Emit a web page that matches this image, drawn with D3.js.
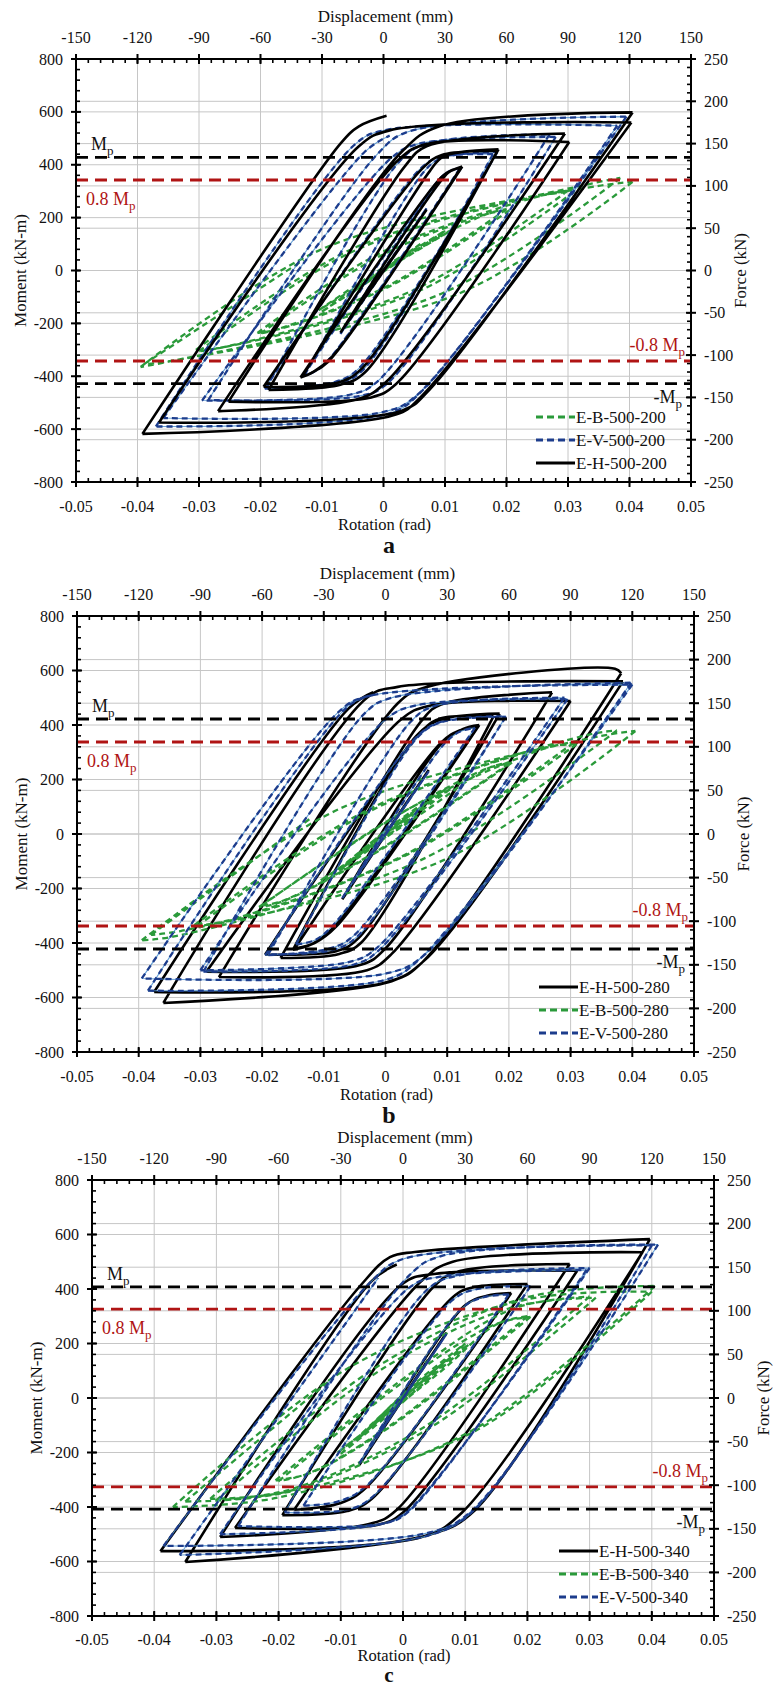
<!DOCTYPE html>
<html><head><meta charset="utf-8">
<script src="https://cdn.jsdelivr.net/npm/d3@7"></script>
<style>
body{margin:0;background:#fff}
svg, svg text{font-family:"Liberation Serif","DejaVu Serif",serif}
svg text{fill:#111}
</style>
</head><body>
<svg id="chart" width="777" height="1686" font-family="Liberation Serif, DejaVu Serif, serif"></svg>
<script>
// ---------- tick labels ----------
const rotTicks = [-0.05,-0.04,-0.03,-0.02,-0.01,0,0.01,0.02,0.03,0.04,0.05];
const dispTicks = [-150,-120,-90,-60,-30,0,30,60,90,120,150];
const momentTicks = [-800,-600,-400,-200,0,200,400,600,800];
const forceTicks = [-250,-200,-150,-100,-50,0,50,100,150,200,250];
const panelLetters = ["a","b","c"];
const mpValues = [428, 422, 408];

// ---------- legends ----------
const legendA = ["E-B-500-200","E-V-500-200","E-H-500-200"];
const legendB = ["E-H-500-280","E-B-500-280","E-V-500-280"];
const legendC = ["E-H-500-340","E-B-500-340","E-V-500-340"];

// ---------- series (rotation rad, moment kN-m) ----------
const a_EH = [[0,0],[0.004,130],[-0.004,-130],[0.007,230],[-0.007,-235],
[0.0105,370],[0.0118,385],[0.0128,393],[-0.0085,-330],[-0.0115,-385],[-0.0135,-405],
[0.0095,355],[0.0112,380],[0.0126,390],[-0.009,-345],[-0.0118,-388],[-0.0132,-402],
[0.0075,375],[0.0098,432],[0.0187,458],[-0.0035,-370],[-0.0075,-425],[-0.0195,-440],
[0.0065,390],[0.0095,437],[0.0185,452],[-0.003,-385],[-0.007,-432],[-0.0187,-452],
[0.0035,395],[0.007,470],[0.0295,518],[0.0005,-420],[-0.004,-485],[-0.0269,-532],
[0.0025,420],[0.007,478],[0.0302,486],[0.002,-430],[-0.002,-480],[-0.0252,-496],
[0.003,450],[0.009,545],[0.0405,598],[0.0075,-450],[0.003,-530],[-0.0365,-575],
[-0.004,470],[0.001,530],[0.0403,560],[0.006,-480],[0.002,-545],[-0.0392,-618],
[-0.007,480],[-0.004,545],[0.0005,585]];
const a_EV = [[0,0],[0.004,130],[-0.004,-130],[0.007,235],[-0.007,-240],
[0.0098,360],[0.0115,382],[0.0127,390],[-0.009,-340],[-0.0115,-385],[-0.013,-398],
[0.0095,355],[0.011,378],[0.0124,386],[-0.0092,-345],[-0.0117,-388],[-0.0128,-395],
[0.0068,380],[0.0098,428],[0.0185,448],[-0.004,-370],[-0.008,-422],[-0.0193,-447],
[0.006,385],[0.0093,430],[0.0178,440],[-0.0035,-380],[-0.0075,-428],[-0.019,-442],
[0.0025,410],[0.007,480],[0.027,515],[-0.001,-420],[-0.0055,-470],[-0.0295,-492],
[0.001,420],[0.0055,478],[0.028,505],[0.0005,-430],[-0.004,-475],[-0.0285,-490],
[-0.001,440],[0.004,525],[0.0395,582],[0.0065,-450],[0.001,-540],[-0.037,-590],
[-0.0045,480],[0.0005,532],[0.038,548],[0.0055,-470],[0.0,-535],[-0.0358,-558],
[-0.003,450],[0.001,510]];
const a_EB = [[0,0],[0.004,60],[-0.004,-60],[0.006,100],[-0.006,-100],
[0.001,20],[0.01,150],[-0.001,-20],[-0.01,-155],
[0.001,15],[0.0105,145],[-0.001,-15],[-0.0105,-150],
[0.0033,58],[0.017,215],[0.02,232],[0.0004,-62],[-0.017,-220],[-0.02,-238],
[-0.0003,58],[0.017,215],[0.0205,228],[0.001,-60],[-0.017,-222],[-0.0205,-236],
[0.0002,75],[0.026,285],[0.03,302],[0.005,-73],[-0.026,-290],[-0.03,-305],
[-0.0047,75],[0.026,285],[0.031,298],[0.006,-75],[-0.026,-290],[-0.0305,-300],
[-0.0045,88],[0.034,330],[0.0385,350],[0.0095,-87],[-0.035,-345],[-0.0395,-365],
[-0.0093,88],[0.035,320],[0.0405,335],[0.0125,-85],[-0.034,-340],[-0.039,-355],
[-0.013,40]];

const b_EH = [[0,0],[0.004,135],[-0.004,-135],[0.007,235],[-0.007,-240],
[0.009,330],[0.0125,385],[0.0152,400],[-0.008,-340],[-0.0115,-400],[-0.0147,-420],
[0.009,335],[0.012,380],[0.015,395],[-0.0085,-345],[-0.012,-405],[-0.015,-425],
[0.005,360],[0.009,420],[0.0185,442],[-0.0045,-385],[-0.008,-430],[-0.0195,-442],
[0.006,380],[0.009,425],[0.0175,432],[-0.004,-400],[-0.0075,-440],[-0.017,-455],
[0.006,420],[0.009,475],[0.027,520],[0.0,-420],[-0.004,-480],[-0.029,-505],
[0.0025,420],[0.007,470],[0.030,488],[0.001,-440],[-0.003,-500],[-0.027,-525],
[0.002,480],[0.006,535],[0.0372,606],[0.0382,590],[0.006,-470],[0.001,-540],[-0.036,-620],
[-0.003,500],[0.002,540],[0.0385,560],[0.0065,-460],[0.0,-545],[-0.0375,-580],
[-0.006,460],[-0.002,520]];
const b_EB = [[0,0],[0.004,70],[-0.004,-70],[0.007,120],[-0.007,-125],
[0.001,30],[0.01,170],[-0.001,-30],[-0.01,-175],
[0.0015,35],[0.0105,165],[-0.0015,-35],[-0.0105,-170],
[0.0052,65],[0.017,245],[0.0205,262],[-0.0013,-65],[-0.017,-250],[-0.0205,-268],
[0.0017,65],[0.017,245],[0.02,258],[-0.0015,-64],[-0.017,-248],[-0.02,-262],
[0.003,83],[0.026,315],[0.0305,335],[0.0025,-84],[-0.026,-320],[-0.0305,-338],
[-0.0025,84],[0.026,318],[0.031,330],[0.003,-82],[-0.026,-322],[-0.031,-335],
[-0.0023,95],[0.033,365],[0.0375,380],[0.0058,-95],[-0.034,-375],[-0.0395,-390],
[-0.0072,95],[0.035,360],[0.0405,378],[0.0095,-95],[-0.033,-355],[-0.038,-370],
[-0.012,60]];
const b_EV = [[0,0],[0.004,130],[-0.004,-130],[0.007,230],[-0.007,-235],
[0.0095,330],[0.012,375],[0.0145,390],[-0.0085,-335],[-0.0115,-390],[-0.0145,-405],
[0.005,350],[0.009,410],[0.0195,430],[-0.005,-370],[-0.009,-420],[-0.0195,-445],
[0.005,355],[0.009,412],[0.0195,432],[-0.0045,-375],[-0.0085,-425],[-0.019,-442],
[0.004,410],[0.008,470],[0.029,500],[-0.0015,-420],[-0.006,-470],[-0.03,-500],
[0.0,420],[0.005,472],[0.0295,495],[-0.001,-425],[-0.005,-478],[-0.0295,-505],
[-0.0035,440],[0.001,500],[0.0398,555],[0.0065,-440],[0.0005,-510],[-0.0395,-530],
[-0.0075,450],[-0.003,505],[0.040,548],[0.0055,-460],[0.0,-535],[-0.0385,-575],
[-0.006,470],[-0.002,510]];

const c_EH = [[0,0],[0.004,140],[-0.004,-140],[0.007,240],[-0.007,-245],
[0.010,340],[0.0135,375],[0.0174,385],[-0.006,-330],[-0.010,-385],[-0.0175,-410],
[0.008,370],[0.011,405],[0.020,418],[-0.005,-370],[-0.009,-415],[-0.0194,-430],
[0.005,410],[0.009,465],[0.0268,492],[-0.001,-410],[-0.005,-460],[-0.0294,-510],
[0.0,420],[0.005,455],[0.028,467],[0.0,-420],[-0.004,-465],[-0.027,-477],
[0.003,430],[0.008,500],[0.0385,535],[0.0095,-420],[0.003,-510],[-0.039,-562],
[-0.0069,411],[-0.0021,517],[0.0019,536],[0.0397,583],[0.0116,-411],[0.0045,-500],[-0.035,-602],
[-0.005,430],[-0.001,490]];
const c_EB = [[0,0],[0.004,80],[-0.004,-80],[0.007,140],[-0.007,-145],
[0.001,35],[0.01,200],[-0.001,-35],[-0.01,-205],
[0.0015,40],[0.0105,195],[-0.0015,-40],[-0.0105,-200],
[0.0062,100],[0.015,270],[0.02,300],[-0.002,-100],[-0.015,-275],[-0.02,-305],
[0.0025,100],[0.015,272],[0.0205,298],[-0.0017,-100],[-0.015,-276],[-0.0205,-302],
[0.0024,110],[0.018,330],[0.03,372],[0.0033,-108],[-0.018,-335],[-0.03,-375],
[-0.0031,110],[0.018,335],[0.031,368],[0.0043,-110],[-0.018,-340],[-0.031,-370],
[-0.0038,120],[0.02,370],[0.0405,411],[0.0111,-119],[-0.02,-365],[-0.037,-400],
[-0.0082,118],[0.02,362],[0.040,390],[0.0117,-120],[-0.02,-352],[-0.035,-380],
[-0.012,60]];
const c_EV = [[0,0],[0.004,135],[-0.004,-135],[0.007,235],[-0.007,-240],
[0.0095,330],[0.013,370],[0.017,380],[-0.006,-325],[-0.0105,-380],[-0.016,-395],
[0.008,360],[0.012,400],[0.0205,410],[-0.005,-365],[-0.009,-410],[-0.019,-420],
[0.004,400],[0.009,450],[0.030,477],[0.0005,-420],[-0.004,-465],[-0.0294,-500],
[0.001,405],[0.006,445],[0.0295,470],[0.001,-415],[-0.003,-460],[-0.0265,-470],
[0.001,450],[0.006,520],[0.041,563],[0.011,-415],[0.004,-495],[-0.0385,-543],
[-0.005,430],[0.0,510],[0.040,560],[0.0115,-410],[0.004,-505],[-0.0359,-576],
[-0.004,440]];

// ---------- assembly ----------
const PANELS = [
  {letter: panelLetters[0], mp: mpValues[0], legend: legendA,
   series: {"E-B-500-200": a_EB, "E-V-500-200": a_EV, "E-H-500-200": a_EH}},
  {letter: panelLetters[1], mp: mpValues[1], legend: legendB,
   series: {"E-H-500-280": b_EH, "E-B-500-280": b_EB, "E-V-500-280": b_EV}},
  {letter: panelLetters[2], mp: mpValues[2], legend: legendC,
   series: {"E-H-500-340": c_EH, "E-B-500-340": c_EB, "E-V-500-340": c_EV}}
];
const LAYOUT = [
  {left:76, right:691, top:59, bottom:482, tickDy:24, titleDy:42, letterDy:63, letterSize:24},
  {left:77, right:694, top:616, bottom:1052, tickDy:24, titleDy:42, letterDy:63, letterSize:24},
  {left:92, right:714, top:1180, bottom:1616, tickDy:23, titleDy:39, letterDy:59, letterSize:21}
];
function styleFor(name){
  if (name.startsWith("E-H")) return {stroke:"#000", width:2.6, dash:null};
  if (name.startsWith("E-B")) return {stroke:"#2a9a3a", width:2.3, dash:"6,4"};
  return {stroke:"#1c3c8c", width:2.3, dash:"6,4", under:"#4b8fcf"};
}
// split a hysteresis path into half-cycles at rotation reversals
function halfCycles(data){
  const segs = []; let cur = [data[0]];
  for (let i = 1; i < data.length; i++) {
    cur.push(data[i]);
    if (i < data.length - 1) {
      const a = data[i][0] - data[i-1][0], b = data[i+1][0] - data[i][0];
      if (a * b < 0) { segs.push(cur); cur = [data[i]]; }
    }
  }
  segs.push(cur);
  return segs;
}
const RED = "#b01414";
const FONT = "Liberation Serif, DejaVu Serif, serif";
const svg = d3.select("#chart");

PANELS.forEach((P, i) => {
  const L = LAYOUT[i];
  const x = d3.scaleLinear().domain([rotTicks[0], rotTicks[rotTicks.length-1]]).range([L.left, L.right]);
  const xT = d3.scaleLinear().domain([dispTicks[0], dispTicks[dispTicks.length-1]]).range([L.left, L.right]);
  const y = d3.scaleLinear().domain([momentTicks[0], momentTicks[momentTicks.length-1]]).range([L.bottom, L.top]);
  const yR = d3.scaleLinear().domain([forceTicks[0], forceTicks[forceTicks.length-1]]).range([L.bottom, L.top]);
  const g = svg.append("g").attr("font-family", FONT);

  // grid
  g.selectAll(null).data(rotTicks.slice(1,-1)).join("line")
    .attr("x1", d=>x(d)).attr("x2", d=>x(d)).attr("y1", L.top).attr("y2", L.bottom)
    .attr("stroke", "#c6c6c6").attr("stroke-width", 1);
  const hy = momentTicks.slice(1,-1).map(d=>y(d)).concat(forceTicks.slice(1,-1).map(d=>yR(d)));
  g.selectAll(null).data(hy).join("line")
    .attr("x1", L.left).attr("x2", L.right).attr("y1", d=>d).attr("y2", d=>d)
    .attr("stroke", "#c6c6c6").attr("stroke-width", 1);

  // clip
  const cid = "clip" + i;
  svg.append("clipPath").attr("id", cid).append("rect")
    .attr("x", L.left).attr("y", L.top).attr("width", L.right-L.left).attr("height", L.bottom-L.top);
  const plot = g.append("g").attr("clip-path", `url(#${cid})`);

  const line = d3.line().x(d=>x(d[0])).y(d=>y(d[1])).curve(d3.curveCatmullRom.alpha(0.5));
  const pathD = data => halfCycles(data).map(s => line(s)).join("");
  P.legend.forEach(name => {
    const s = styleFor(name);
    const d = pathD(P.series[name]);
    if (s.under) {
      plot.append("path").attr("d", d).attr("fill","none")
        .attr("stroke", s.under).attr("stroke-width", 1.1).attr("opacity", 0.85);
    }
    plot.append("path").attr("d", d).attr("fill","none")
      .attr("stroke", s.stroke).attr("stroke-width", s.width)
      .attr("stroke-dasharray", s.dash).attr("stroke-linejoin","round");
  });

  // reference lines
  const refs = [[P.mp,"#000"],[0.8*P.mp,RED],[-0.8*P.mp,RED],[-P.mp,"#000"]];
  plot.selectAll(null).data(refs).join("line")
    .attr("x1", L.left).attr("x2", L.right)
    .attr("y1", d=>y(d[0])).attr("y2", d=>y(d[0]))
    .attr("stroke", d=>d[1]).attr("stroke-width", 2.8).attr("stroke-dasharray", "12,7");

  // frame
  g.append("rect").attr("x", L.left).attr("y", L.top)
    .attr("width", L.right-L.left).attr("height", L.bottom-L.top)
    .attr("fill","none").attr("stroke","#000").attr("stroke-width",2);

  // minor ticks (inside)
  const tk = (x1,y1,x2,y2,w)=>g.append("line").attr("x1",x1).attr("y1",y1).attr("x2",x2).attr("y2",y2).attr("stroke","#000").attr("stroke-width",w);
  d3.range(-0.05, 0.0501, 0.002).forEach(v=>tk(x(v),L.bottom,x(v),L.bottom-4,1.6));
  d3.range(-150, 151, 6).forEach(v=>tk(xT(v),L.top,xT(v),L.top+4,1.6));
  d3.range(-800, 801, 40).forEach(v=>tk(L.left,y(v),L.left+4,y(v),1.6));
  d3.range(-250, 251, 10).forEach(v=>tk(L.right,yR(v),L.right-4,yR(v),1.6));
  // major ticks (crossing)
  rotTicks.forEach(v=>tk(x(v),L.bottom-5,x(v),L.bottom+5,2));
  dispTicks.forEach(v=>tk(xT(v),L.top-5,xT(v),L.top+5,2));
  momentTicks.forEach(v=>tk(L.left-5,y(v),L.left+5,y(v),2));
  forceTicks.forEach(v=>tk(L.right-5,yR(v),L.right+5,yR(v),2));

  // tick labels
  const fs = 16;
  g.selectAll(null).data(rotTicks).join("text")
    .attr("x", d=>x(d)).attr("y", L.bottom+L.tickDy).attr("text-anchor","middle")
    .attr("dominant-baseline","central").attr("font-size", fs).text(d=>String(d));
  g.selectAll(null).data(dispTicks).join("text")
    .attr("x", d=>xT(d)).attr("y", L.top-22).attr("text-anchor","middle")
    .attr("dominant-baseline","central").attr("font-size", fs).text(d=>String(d));
  g.selectAll(null).data(momentTicks).join("text")
    .attr("x", L.left-13).attr("y", d=>y(d)).attr("text-anchor","end")
    .attr("dominant-baseline","central").attr("font-size", fs).text(d=>String(d));
  g.selectAll(null).data(forceTicks).join("text")
    .attr("x", L.right+13).attr("y", d=>yR(d)).attr("text-anchor","start")
    .attr("dominant-baseline","central").attr("font-size", fs).text(d=>String(d));

  // axis titles
  const cx = (L.left+L.right)/2, cy = (L.top+L.bottom)/2;
  g.append("text").attr("x", cx+2).attr("y", L.top-43).attr("text-anchor","middle")
    .attr("dominant-baseline","central").attr("font-size",17).text("Displacement (mm)");
  g.append("text").attr("x", cx+1).attr("y", L.bottom+L.titleDy).attr("text-anchor","middle")
    .attr("dominant-baseline","central").attr("font-size",16.5).text("Rotation (rad)");
  g.append("text").attr("transform",`translate(${L.left-56},${cy}) rotate(-90)`)
    .attr("text-anchor","middle").attr("dominant-baseline","central").attr("font-size",17).text("Moment (kN-m)");
  g.append("text").attr("transform",`translate(${L.right+49},${cy}) rotate(-90)`)
    .attr("text-anchor","middle").attr("dominant-baseline","central").attr("font-size",17).text("Force (kN)");
  g.append("text").attr("x", 389).attr("y", L.bottom+L.letterDy).attr("text-anchor","middle")
    .attr("dominant-baseline","central").attr("font-size",L.letterSize).attr("font-weight","bold").text(P.letter);

  // reference labels
  const lab = (xx, yy, pre, anchor, color) => {
    const t = g.append("text").attr("x", xx).attr("y", yy).attr("text-anchor", anchor)
      .attr("font-size", 18).style("fill", color);
    t.append("tspan").text(pre + "M");
    t.append("tspan").attr("font-size", 13).attr("dy", 5).text("p");
  };
  lab(L.left+15, y(P.mp)-7, "", "start", "#111");
  lab(L.left+10, y(0.8*P.mp)+25, "0.8 ", "start", RED);
  lab(L.right-6, y(-0.8*P.mp)-10, "-0.8 ", "end", RED);
  lab(L.right-9, y(-P.mp)+19, "-", "end", "#111");

  // legend
  P.legend.forEach((name, k) => {
    const s = styleFor(name);
    const ly = L.bottom - 65 + k*23;
    g.append("line").attr("x1", L.right-155).attr("x2", L.right-116).attr("y1", ly).attr("y2", ly)
      .attr("stroke", s.stroke).attr("stroke-width", 3).attr("stroke-dasharray", s.dash ? "7,4" : null);
    g.append("text").attr("x", L.right-115).attr("y", ly).attr("dominant-baseline","central")
      .attr("font-size", 17).text(name);
  });
});
</script>
</body></html>
